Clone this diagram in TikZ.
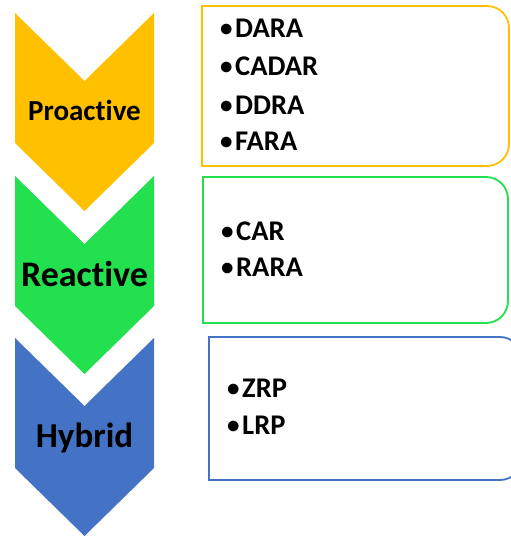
\documentclass[tikz,border=0pt]{standalone}
\usepackage{fontspec}
\setmainfont{Carlito}[Ligatures=NoCommon]
\definecolor{proorange}{HTML}{FFC000}
\definecolor{regreen}{HTML}{23E04F}
\definecolor{hyblue}{HTML}{4472C4}
\tikzset{
  chevfill/.style={fill=#1, draw=none},
  tagtext/.style={anchor=base, inner sep=0pt, font=\bfseries\fontsize{#1}{#1}\selectfont},
  itemtext/.style={anchor=base west, inner sep=0pt, font=\bfseries\fontsize{28.5}{30}\selectfont},
  listbox/.style={draw=#1, line width=1.8pt, fill=white},
}
% small bullet followed by the item name
\newcommand\bulletitem[1]{\makebox[15pt][l]{\fontsize{25}{25}\selectfont\raisebox{1pt}{•}}#1}
% downward chevron whose top corners lie at height #1
\newcommand\chevronpath[2]{%
  \fill[chevfill=#2] (15,#1) -- (84.5,#1-68) -- (154,#1) -- (154,#1-130)
    -- (84.5,#1-198) -- (15,#1-130) -- cycle;}
% box with square left corners and rounded right corners
\newcommand\itembox[5]{%
  \draw[listbox=#5] (#1,#3) -- (#2-22,#3) arc[start angle=90,end angle=0,radius=22pt]
    -- (#2,#4+22) arc[start angle=0,end angle=-90,radius=22pt] -- (#1,#4) -- cycle;}
\begin{document}
\begin{tikzpicture}[x=1pt,y=1pt]
\useasboundingbox (0,0) rectangle (511,536);
\clip (0,0) rectangle (511,536);
\fill[white] (0,0) rectangle (511,536);

% chevrons
\chevronpath{523}{proorange}
\chevronpath{360}{regreen}
\chevronpath{198}{hyblue}

\node[tagtext=29] (pro) at (84.5,415) {Proactive};
\node[tagtext=36] (rea) at (84.5,249) {Reactive};
\node[tagtext=35] (hyb) at (84.5,88) {Hybrid};

% item boxes
\itembox{202}{509}{530}{370}{proorange}
\itembox{203}{508}{359}{213}{regreen}
\itembox{209}{522}{199}{56}{hyblue}

\node[itemtext] (dara)  at (220,498) {\bulletitem{DARA}};
\node[itemtext] (cadar) at (220,460) {\bulletitem{CADAR}};
\node[itemtext] (ddra)  at (220,421) {\bulletitem{DDRA}};
\node[itemtext] (fara)  at (220,385) {\bulletitem{FARA}};

\node[itemtext] (car)  at (221,295) {\bulletitem{CAR}};
\node[itemtext] (rara) at (221,259) {\bulletitem{RARA}};

\node[itemtext] (zrp) at (227,138) {\bulletitem{ZRP}};
\node[itemtext] (lrp) at (227,101) {\bulletitem{LRP}};
\end{tikzpicture}
\end{document}
